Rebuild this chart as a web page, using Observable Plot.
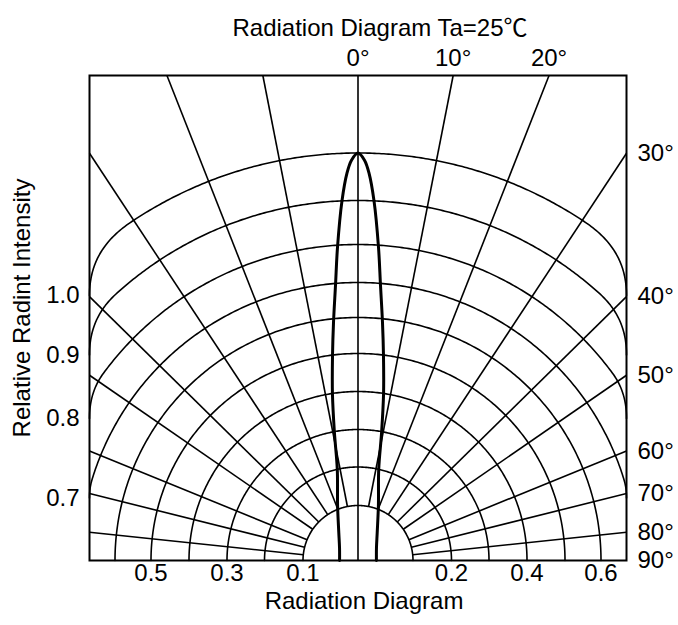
<!DOCTYPE html>
<html>
<head>
<meta charset="utf-8">
<script src="https://cdn.jsdelivr.net/npm/d3@7"></script>
<script src="https://cdn.jsdelivr.net/npm/@observablehq/plot@0.6"></script>
<style>
  html, body { margin: 0; padding: 0; background: #fff; }
</style>
</head>
<body>
<div id="chart"></div>
<script>
// ---- chart values ----
const ringValues       = [0.1, 0.2, 0.3, 0.4, 0.5, 0.6, 0.7, 0.8, 0.9, 1.0];   // relative intensity rings
const ringRadius       = [55, 93.5, 131, 169, 207, 243, 278, 316, 360, 407.5];  // radial scale range (plot units)
const spokeLabels      = [0, 10, 20, 30, 40, 50, 60, 70, 80, 90];               // degrees
const spokeDrawnAngle  = [0, 11.1, 21.5, 33.4, 45.5, 55.4, 67.8, 76, 84, 90];   // direction as drawn
const leftLabels       = [1.0, 0.9, 0.8, 0.7];
const bottomLeftLabels = [0.5, 0.3, 0.1];
const bottomRightLabels= [0.2, 0.4, 0.6];
const lobeAngle = [-90, -56, -34.6, -20.3, -12.8, -10.4, -8.7, -7.07, -5.87, -4.67, -3.74, -2.55, -1.63, -0.93,
                   0, 0.93, 1.63, 2.55, 3.74, 4.67, 5.87, 7.07, 8.7, 10.4, 12.8, 20.3, 34.6, 56, 90];
const lobeIntensity = [0.005, 0.015, 0.045, 0.11, 0.20, 0.30, 0.40, 0.50, 0.59, 0.695, 0.795, 0.90, 0.958, 0.985,
                       1.0, 0.985, 0.958, 0.90, 0.795, 0.695, 0.59, 0.50, 0.40, 0.30, 0.20, 0.11, 0.045, 0.015, 0.005];
const titleText  = "Radiation Diagram Ta=25\u2103";
const xTitleText = "Radiation Diagram";
const yTitleText = "Relative Radint Intensity";

// ---- geometry ----
const W = 268.5, H = 485;                      // plot-unit half width / height of the frame
const rScale = d3.scaleLinear(ringValues, ringRadius);
const rad = d => d * Math.PI / 180;

// outer rings bend into the side borders
function xStar(r) { return r > 270 ? W + 0.3 * (r - 270) : Infinity; }
function bend(X, r) {
  const xs = xStar(r);
  if (!isFinite(xs)) return X;
  const Xs = 2 * W - xs, a = Math.abs(X);
  if (a <= Xs) return X;
  const u = Math.min(1, (a - Xs) / (xs - Xs));
  return Math.sign(X) * (Xs + (W - Xs) * (2 * u - u * u));
}

const arcPts = [];
ringValues.forEach(v => {
  const r = rScale(v), xs = xStar(r);
  const pmax = xs < r ? Math.asin(xs / r) : Math.PI / 2;
  const N = 300;
  for (let i = 0; i <= N; i++) {
    const p = -pmax + 2 * pmax * i / N;
    arcPts.push({v, x: bend(r * Math.sin(p), r), y: r * Math.cos(p)});
  }
});

const spokes = [], topLab = [], sideLab = [];
spokeLabels.forEach((lab, i) => {
  const a = rad(spokeDrawnAngle[i]);
  const s = Math.sin(a), c = Math.cos(a);
  const tEnd = Math.min(s > 1e-9 ? W / s : Infinity, c > 1e-9 ? H / c : Infinity);
  const t0 = lab === 0 ? 0 : rScale(0.1);
  const ex = tEnd * s, ey = Math.abs(c) < 1e-9 ? 0 : tEnd * c;
  if (lab === 0) {
    spokes.push({x1: 0, y1: 0, x2: 0, y2: H});
  } else if (lab < 90) {
    for (const sg of [1, -1]) spokes.push({x1: sg * t0 * s, y1: t0 * c, x2: sg * ex, y2: ey});
  }
  if (ey >= H - 1e-6) topLab.push({x: ex, y: H, t: lab + "\u00b0"});
  else sideLab.push({x: W, y: ey, t: lab + "\u00b0"});
});

const leftLab = leftLabels.map(v => {
  const r = rScale(v), xs = Math.min(xStar(r), r);
  return {x: -W, y: Math.sqrt(Math.max(0, r * r - xs * xs)), t: v.toFixed(1)};
});
const bottomLab = [
  ...bottomLeftLabels.map(v => ({x: -bend(rScale(v), rScale(v)), y: 0, t: v.toFixed(1)})),
  ...bottomRightLabels.map(v => ({x: bend(rScale(v), rScale(v)), y: 0, t: v.toFixed(1)}))
];

const lobe = lobeAngle.map((a, i) => {
  const r = rScale(lobeIntensity[i]);
  return {x: r * Math.sin(rad(a)), y: r * Math.cos(rad(a))};
});

const FONT = "'Liberation Sans', Arial, Helvetica, 'Noto Sans CJK SC', sans-serif";
const txt = {fontFamily: FONT, fontSize: 24, fill: "black"};

const chart = Plot.plot({
  width: 678, height: 625,
  marginLeft: 89, marginRight: 52, marginTop: 75, marginBottom: 65,
  x: {domain: [-W, W], axis: null},
  y: {domain: [0, H], axis: null},
  style: {fontFamily: FONT, background: "white"},
  marks: [
    Plot.line(arcPts, {x: "x", y: "y", z: "v", stroke: "black", strokeWidth: 1.6, curve: "linear"}),
    Plot.link(spokes, {x1: "x1", y1: "y1", x2: "x2", y2: "y2", stroke: "black", strokeWidth: 1.6}),
    Plot.line(lobe, {x: "x", y: "y", stroke: "black", strokeWidth: 3, curve: "catmull-rom"}),
    Plot.frame({stroke: "black", strokeWidth: 2}),
    Plot.text(topLab, {x: "x", y: "y", text: "t", dy: -17, ...txt}),
    Plot.text(sideLab, {x: "x", y: "y", text: "t", dx: 11, textAnchor: "start", ...txt}),
    Plot.text(leftLab, {x: "x", y: "y", text: "t", dx: -10, textAnchor: "end", ...txt}),
    Plot.text(bottomLab, {x: "x", y: "y", text: "t", dy: 13, ...txt}),
    Plot.text([titleText], {text: d => d, frameAnchor: "top", textAnchor: "middle", dx: 22, dy: -57, ...txt}),
    Plot.text([xTitleText], {text: d => d, frameAnchor: "bottom", textAnchor: "middle", dx: 6, dy: 48, ...txt}),
    Plot.text([yTitleText], {text: d => d, frameAnchor: "left", textAnchor: "middle", rotate: -90, dx: -67, dy: -10, ...txt})
  ]
});
document.getElementById("chart").appendChild(chart);
</script>
</body>
</html>
